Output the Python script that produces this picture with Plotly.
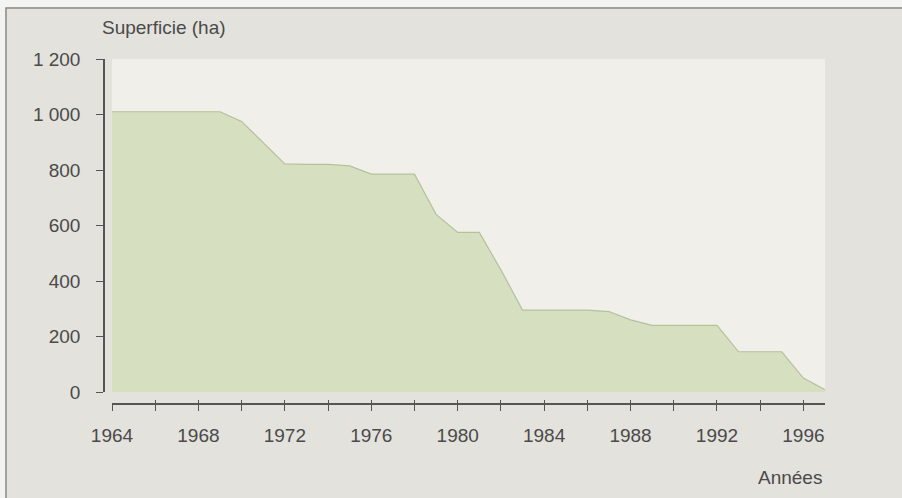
import plotly.graph_objects as go

years = list(range(1964, 1998))
area_ha = [1010, 1010, 1010, 1010, 1010, 1010, 975, 900, 822, 820, 820, 815,
           785, 785, 785, 640, 575, 575, 440, 295, 295, 295, 295, 290,
           260, 240, 240, 240, 240, 145, 145, 145, 50, 8]

y_tickvals = [0, 200, 400, 600, 800, 1000, 1200]
y_ticktext = ["0", "200", "400", "600", "800", "1 000", "1 200"]
x_tickvals = list(range(1964, 1997, 2))
x_ticktext = [str(v) if (v - 1964) % 4 == 0 else "" for v in x_tickvals]

TXT = "#4a4a4a"
AX = "#555555"
FONT = "Liberation Sans, Arial, sans-serif"

W, H = 902, 498
ML, MR, MT, MB = 90, 77, 59, 80
PW, PH = W - ML - MR, H - MT - MB


def px(xp):
    return (xp - ML) / PW


def py(yp):
    return (H - MB - yp) / PH


fig = go.Figure()
fig.add_trace(go.Scatter(
    x=years, y=area_ha, mode="lines", fill="tozeroy",
    line=dict(color="#b4c29b", width=1.2),
    fillcolor="#d6dfc0", hoverinfo="x+y", showlegend=False,
))
fig.add_trace(go.Scatter(x=[], y=[], xaxis="x2", yaxis="y", showlegend=False))

axis_common = dict(showgrid=False, zeroline=False, showline=True,
                   linecolor=AX, linewidth=1.5, tickcolor=AX, tickwidth=1.2,
                   tickfont=dict(size=19, color=TXT, family=FONT))

fig.update_layout(
    width=W, height=H,
    margin=dict(l=ML, r=MR, t=MT, b=MB),
    paper_bgcolor="#e3e2dd",
    plot_bgcolor="#f0efea",
    font=dict(family=FONT, color=TXT),
    xaxis=dict(domain=[px(112), 1], range=[1964, 1997], anchor="free",
               position=py(404), tickmode="array", tickvals=x_tickvals,
               ticktext=x_ticktext, ticks="outside", ticklen=6,
               ticklabelstandoff=8, **axis_common),
    xaxis2=dict(overlaying="x", range=[1964, 1997], anchor="free",
                position=py(404), tickmode="array", tickvals=x_tickvals,
                showticklabels=False, ticks="inside", ticklen=4,
                showline=False, showgrid=False, zeroline=False,
                tickcolor=AX, tickwidth=1.2),
    yaxis=dict(domain=[py(392), 1], range=[0, 1200], anchor="free",
               position=px(104), tickmode="array", tickvals=y_tickvals,
               ticktext=y_ticktext, ticks="outside", ticklen=7,
               ticklabelstandoff=12, **axis_common),
    shapes=[
        dict(type="rect", xref="paper", yref="paper",
             x0=px(-5), x1=px(W + 5), y0=py(-5), y1=py(7),
             fillcolor="#f3f3f1", line=dict(width=0), layer="above"),
        dict(type="rect", xref="paper", yref="paper",
             x0=px(-5), x1=px(5.5), y0=py(H + 5), y1=py(-5),
             fillcolor="#f3f3f1", line=dict(width=0), layer="above"),
        dict(type="rect", xref="paper", yref="paper",
             x0=px(6), x1=px(W + 10), y0=py(H + 10), y1=py(8),
             fillcolor="rgba(0,0,0,0)", line=dict(color="#8a8a88", width=1.5),
             layer="above"),
    ],
    annotations=[
        dict(text="Superficie (ha)", xref="paper", yref="paper",
             x=px(100), y=py(27), xanchor="left", yanchor="middle",
             showarrow=False, font=dict(size=19, color=TXT, family=FONT)),
        dict(text="Années", xref="paper", yref="paper",
             x=px(824), y=py(478), xanchor="right", yanchor="middle",
             showarrow=False, font=dict(size=19, color=TXT, family=FONT)),
    ],
)

fig.write_html("out.html",
               config={"displayModeBar": False},
               post_script="document.body.style.margin='0';"
                           "document.body.style.overflow='hidden';")
